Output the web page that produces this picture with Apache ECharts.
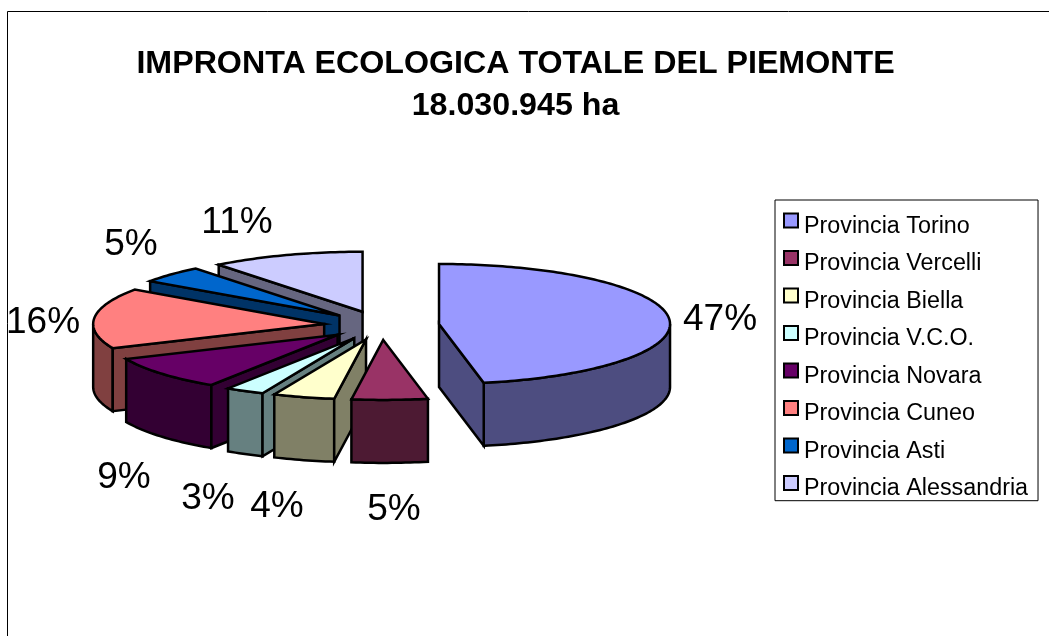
<!DOCTYPE html>
<html>
<head>
<meta charset="utf-8">
<style>html,body{margin:0;padding:0;background:#fff}#c{width:1049px;height:636px}</style>
<script src="https://cdn.jsdelivr.net/npm/echarts@6/dist/echarts.min.js"></script>
</head>
<body>
<div id="c"></div>
<script>
const titleLines = ['IMPRONTA ECOLOGICA TOTALE DEL PIEMONTE', '18.030.945 ha'];
const categories = ['Provincia Torino','Provincia Vercelli','Provincia Biella','Provincia V.C.O.','Provincia Novara','Provincia Cuneo','Provincia Asti','Provincia Alessandria'];
const values = [46.9,5.3,4.3,2.7,9.2,16.3,4.6,10.7];
const colors = ['#9999FF','#993366','#FFFFCC','#CCFFFF','#660066','#FF8080','#0066CC','#CCCCFF'];
const labelCenters = [[720,320],[394,510],[277,507],[208,499],[124,478],[43,323],[131,245],[237,223]];

// projection of the tilted pie
const CX = 381.6, CY = 325.4, RX = 231, RY = 60, DEPTH = 63, EXPLODE_X = 57.7, EXPLODE_Y = 14.5;
const FONT = '"Liberation Sans", Arial, sans-serif';

const total = values.reduce((a, b) => a + b, 0);
let running = 0;
const slices = values.map((v, i) => {
  const a0 = running / total * 2 * Math.PI;
  running += v;
  const a1 = running / total * 2 * Math.PI;
  return { i, a0, a1, mid: (a0 + a1) / 2 };
});
function halfColor(hex) {
  const n = parseInt(hex.slice(1), 16);
  const c = s => Math.round(((n >> s) & 255) / 2);
  return `rgb(${c(16)},${c(8)},${c(0)})`;
}
function renderSlice(slice) {
  return function (params, api) {
    const value = api.value(0);
    const ax = CX + EXPLODE_X * Math.sin(slice.mid);
    const ay = CY - EXPLODE_Y * Math.cos(slice.mid);
    const rim = t => [ax + RX * Math.sin(t), ay - RY * Math.cos(t)];
    const down = p => [p[0], p[1] + DEPTH];
    const arc = (from, to) => {
      const n = Math.max(2, Math.ceil((to - from) / 0.02));
      const pts = [];
      for (let k = 0; k <= n; k++) pts.push(rim(from + (to - from) * k / n));
      return pts;
    };
    const side = halfColor(colors[slice.i]);
    const line = { stroke: '#000', lineWidth: 2.5, lineJoin: 'miter', miterLimit: 10 };
    const poly = (points, fill) => ({ type: 'polygon', shape: { points }, style: Object.assign({ fill }, line) });
    const children = [];
    const from = Math.max(slice.a0, Math.PI / 2), to = Math.min(slice.a1, 3 * Math.PI / 2);
    if (to > from) {
      const top = arc(from, to);
      children.push(poly(top.concat(top.slice().reverse().map(down)), side));
    }
    const apex = [ax, ay];
    if (Math.sin(slice.a1) > 0.01) {
      const e = rim(slice.a1);
      children.push(poly([apex, e, down(e), down(apex)], side));
    }
    if (Math.sin(slice.a0) < -0.01) {
      const e = rim(slice.a0);
      children.push(poly([apex, e, down(e), down(apex)], side));
    }
    children.push(poly([apex].concat(arc(slice.a0, slice.a1)), colors[slice.i]));
    const c = labelCenters[slice.i];
    children.push({
      type: 'text', x: c[0], y: c[1],
      style: { text: Math.round(value) + '%', font: '37px ' + FONT, fill: '#000', align: 'center', verticalAlign: 'middle' }
    });
    return { type: 'group', children };
  };
}
// painter order: back slices first
const drawOrder = slices.slice().sort((a, b) => Math.cos(b.mid) - Math.cos(a.mid));
const series = drawOrder.map((s, k) => ({
  type: 'custom',
  name: categories[s.i],
  coordinateSystem: 'none',
  z: 2 + k,
  silent: true,
  animation: false,
  itemStyle: { color: colors[s.i] },
  data: [[values[s.i]]],
  encode: { value: 0 },
  renderItem: renderSlice(s)
}));

const chart = echarts.init(document.getElementById('c'), null, { renderer: 'canvas' });
chart.setOption({
  animation: false,
  backgroundColor: '#fff',
  title: {
    text: titleLines.join('\n'),
    left: 510.5, top: 38, textAlign: 'center',
    textStyle: { fontFamily: FONT, fontWeight: 'bold', fontSize: 32.2, lineHeight: 42, color: '#000' }
  },
  legend: {
    data: categories,
    orient: 'vertical',
    left: 775, top: 200,
    padding: [12.5, 10, -2.3, 8],
    backgroundColor: '#fff',
    borderColor: '#000', borderWidth: 1, borderRadius: 0,
    // swatch sits in the upper part of the item, so the label falls slightly below it
    icon: 'path://M0 0H14V14H0ZM7 26L7 26',
    itemWidth: 14, itemHeight: 26, itemGap: 9.5,
    selectedMode: false,
    itemStyle: { borderColor: '#000', borderWidth: 2 },
    textStyle: { fontFamily: FONT, fontSize: 23.3, color: '#000', padding: [0, 0, 0, 1] }
  },
  graphic: [{
    type: 'polyline', silent: true,
    shape: { points: [[7.5, 636], [7.5, 11.5], [1049, 11.5]] },
    style: { stroke: '#000', lineWidth: 1, fill: null }
  }],
  series
});
</script>
</body>
</html>
